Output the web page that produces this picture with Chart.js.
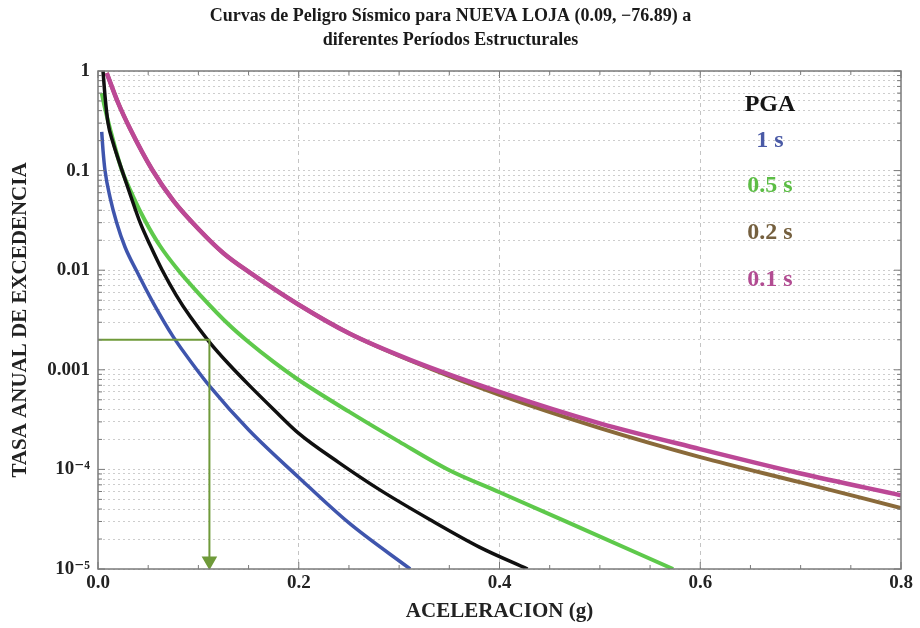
<!DOCTYPE html>
<html>
<head>
<meta charset="utf-8">
<script src="https://cdn.jsdelivr.net/npm/chart.js@4.4.1/dist/chart.umd.min.js"></script>
<style>
  html, body { margin: 0; padding: 0; background: #fff; }
  #wrap { width: 920px; height: 628px; }
</style>
</head>
<body>
<div id="wrap"><canvas id="peligroChart"></canvas></div>
<script>
// Curvas de peligro sísmico - valores leídos a ojo del gráfico original
const tituloLineas = ['Curvas de Peligro Sísmico para NUEVA LOJA (0.09, \u221276.89) a', 'diferentes Períodos Estructurales'];
const xTickLabels = ['0.0', '0.2', '0.4', '0.6', '0.8'];
const yTickLabels = ['10\u207B\u2075', '10\u207B\u2074', '0.001', '0.01', '0.1', '1'];

// PGA (negro)
const pgaX = [0.005, 0.007, 0.010, 0.015, 0.024, 0.033, 0.042, 0.052, 0.064, 0.078, 0.092, 0.111, 0.130, 0.150, 0.175, 0.200, 0.240, 0.280, 0.330, 0.380, 0.428];
const pgaY = [1.0, 0.56, 0.30, 0.19, 0.10, 0.054, 0.030, 0.0178, 0.010, 0.0056, 0.0034, 0.0019, 0.00115, 7.1e-4, 4.0e-4, 2.3e-4, 1.17e-4, 6.3e-5, 3.16e-5, 1.66e-5, 1.0e-5];

// 1 s (azul)
const t1X = [0.0037, 0.005, 0.007, 0.012, 0.0186, 0.027, 0.0385, 0.055, 0.075, 0.097, 0.111, 0.150, 0.200, 0.250, 0.311];
const t1Y = [0.245, 0.16, 0.10, 0.054, 0.030, 0.017, 0.0098, 0.0047, 0.00214, 0.00105, 6.9e-4, 2.5e-4, 8.3e-5, 2.9e-5, 1.0e-5];

// 0.5 s (verde)
const t05X = [0.0037, 0.007, 0.012, 0.0236, 0.035, 0.0468, 0.062, 0.080, 0.102, 0.131, 0.150, 0.175, 0.200, 0.250, 0.300, 0.350, 0.400, 0.480, 0.573];
const t05Y = [0.60, 0.42, 0.263, 0.102, 0.055, 0.0316, 0.0174, 0.010, 0.0056, 0.0028, 0.0019, 0.0012, 7.9e-4, 3.8e-4, 1.9e-4, 9.8e-5, 5.9e-5, 2.6e-5, 1.0e-5];

// 0.2 s (café)
const t02X = [0.0087, 0.020, 0.032, 0.054, 0.075, 0.1016, 0.125, 0.151, 0.200, 0.251, 0.311, 0.400, 0.500, 0.600, 0.700, 0.800];
const t02Y = [0.955, 0.48, 0.263, 0.102, 0.050, 0.025, 0.0148, 0.0095, 0.0045, 0.0023, 0.00124, 5.6e-4, 2.6e-4, 1.33e-4, 7.4e-5, 4.1e-5];

// 0.1 s (rosa)
const t01X = [0.0087, 0.020, 0.032, 0.054, 0.075, 0.1016, 0.125, 0.151, 0.200, 0.251, 0.311, 0.400, 0.500, 0.600, 0.700, 0.800];
const t01Y = [0.955, 0.48, 0.263, 0.102, 0.050, 0.025, 0.0148, 0.0095, 0.0045, 0.0023, 0.00126, 6.0e-4, 2.9e-4, 1.6e-4, 9.1e-5, 5.5e-5];

// Flecha de lectura (0.002 -> 0.111 g)
const flechaX = [0, 0.111, 0.111];
const flechaY = [0.002, 0.002, 1.2e-5];

const etiquetas = ['PGA', '1 s', '0.5 s', '0.2 s', '0.1 s'];
const coloresEtiqueta = ['#151515', '#4a5aa6', '#5cbd45', '#75603f', '#b24c92'];

function puntos(xs, ys) {
    return xs.map((x, i) => ({ x: x, y: ys[i] }));
}

const serif = '"Liberation Serif", "DejaVu Serif", serif';

// Marco, marcas interiores y etiquetas de periodos
const marcoPlugin = {
    id: 'marco',
    afterDatasetsDraw(chart) {
        const { ctx, chartArea, scales } = chart;
        const { left, right, top, bottom } = chartArea;
        ctx.save();
        ctx.strokeStyle = '#7a7a7a';
        ctx.lineWidth = 1;
        scales.x.ticks.forEach(t => {
            const px = scales.x.getPixelForValue(t.value);
            const len = (Math.round(t.value * 100) % 20 === 0) ? 7 : 4;
            ctx.beginPath();
            ctx.moveTo(px, bottom); ctx.lineTo(px, bottom - len);
            ctx.moveTo(px, top); ctx.lineTo(px, top + len);
            ctx.stroke();
        });
        scales.y.ticks.forEach(t => {
            const py = scales.y.getPixelForValue(t.value);
            const e = Math.log10(t.value);
            const len = Math.abs(e - Math.round(e)) < 1e-9 ? 7 : 4;
            ctx.beginPath();
            ctx.moveTo(left, py); ctx.lineTo(left + len, py);
            ctx.moveTo(right, py); ctx.lineTo(right - len, py);
            ctx.stroke();
        });
        ctx.lineWidth = 1.5;
        ctx.strokeRect(left, top, right - left, bottom - top);

        const desfases = [34, 70, 115, 162, 209];
        ctx.font = 'bold 24px ' + serif;
        ctx.textAlign = 'center';
        ctx.textBaseline = 'middle';
        etiquetas.forEach((txt, i) => {
            ctx.fillStyle = coloresEtiqueta[i];
            ctx.fillText(txt, right - 131, top + desfases[i]);
        });
        ctx.restore();
    }
};

const ctx = document.getElementById('peligroChart').getContext('2d');
const peligroChart = new Chart(ctx, {
    type: 'line',
    data: {
        datasets: [
            {
                label: 'flecha',
                data: puntos(flechaX, flechaY),
                borderColor: '#6f9a3a',
                backgroundColor: '#6f9a3a',
                borderWidth: 2,
                pointStyle: 'triangle',
                pointRotation: 180,
                pointRadius: c => c.dataIndex === flechaX.length - 1 ? 7 : 0,
                tension: 0
            },
            {
                label: etiquetas[0],
                data: puntos(pgaX, pgaY),
                borderColor: '#101010',
                borderWidth: 3.5,
                pointRadius: 0,
                cubicInterpolationMode: 'monotone'
            },
            {
                label: etiquetas[1],
                data: puntos(t1X, t1Y),
                borderColor: '#3f55ad',
                borderWidth: 3.5,
                pointRadius: 0,
                cubicInterpolationMode: 'monotone'
            },
            {
                label: etiquetas[2],
                data: puntos(t05X, t05Y),
                borderColor: '#5ec94b',
                borderWidth: 4,
                pointRadius: 0,
                cubicInterpolationMode: 'monotone'
            },
            {
                label: etiquetas[4],
                data: puntos(t01X, t01Y),
                borderColor: '#bc4896',
                borderWidth: 4.5,
                pointRadius: 0,
                cubicInterpolationMode: 'monotone'
            },
            {
                label: etiquetas[3],
                data: puntos(t02X, t02Y),
                borderColor: '#8a6a3a',
                borderWidth: 4,
                pointRadius: 0,
                cubicInterpolationMode: 'monotone'
            }
        ]
    },
    options: {
        responsive: true,
        maintainAspectRatio: false,
        animation: false,
        layout: { padding: { top: 0, right: 19, bottom: 2, left: 0 } },
        plugins: {
            legend: { display: false },
            tooltip: { enabled: false },
            title: {
                display: true,
                text: tituloLineas,
                color: '#1a1a1a',
                font: { family: serif, size: 18, weight: 'bold', lineHeight: 1.3 },
                padding: { top: 5, bottom: 19.2 }
            }
        },
        scales: {
            x: {
                type: 'linear',
                min: 0,
                max: 0.8,
                afterFit: s => { s.height = 57; },
                border: { display: false, dash: [4, 4] },
                grid: {
                    drawTicks: false,
                    lineWidth: 1,
                    color: c => {
                        const v = Math.round(c.tick.value * 100);
                        return (v % 20 === 0 && v > 0 && v < 80) ? '#c4c4c4' : 'rgba(0,0,0,0)';
                    }
                },
                ticks: {
                    stepSize: 0.05,
                    autoSkip: false,
                    maxRotation: 0,
                    padding: 3,
                    color: '#222',
                    font: { family: serif, size: 19, weight: 'bold' },
                    callback: v => {
                        const n = Math.round(v * 100);
                        return n % 20 === 0 ? xTickLabels[n / 20] : '';
                    }
                },
                title: {
                    display: true,
                    text: 'ACELERACION (g)',
                    color: '#222',
                    font: { family: serif, size: 21, weight: 'bold' },
                    padding: { top: 4, bottom: 1.5 }
                }
            },
            y: {
                type: 'logarithmic',
                min: 1e-5,
                max: 1,
                afterFit: s => { s.width = 98; },
                afterBuildTicks: s => {
                    const lista = [];
                    for (let e = -5; e < 0; e++) {
                        for (let m = 1; m <= 9; m++) lista.push({ value: m * Math.pow(10, e) });
                    }
                    lista.push({ value: 1 });
                    s.ticks = lista;
                },
                border: { display: false, dash: [2, 3] },
                grid: {
                    drawTicks: false,
                    lineWidth: 1,
                    color: '#cdcdcd'
                },
                ticks: {
                    autoSkip: false,
                    padding: 8,
                    color: '#222',
                    font: { family: serif, size: 19, weight: 'bold' },
                    callback: v => {
                        const e = Math.log10(v);
                        return Math.abs(e - Math.round(e)) < 1e-9 ? yTickLabels[Math.round(e) + 5] : '';
                    }
                },
                title: {
                    display: true,
                    text: 'TASA ANUAL DE EXCEDENCIA',
                    color: '#222',
                    font: { family: serif, size: 21, weight: 'bold' },
                    padding: { top: 7.5, bottom: 0 }
                }
            }
        }
    },
    plugins: [marcoPlugin]
});
</script>
</body>
</html>
